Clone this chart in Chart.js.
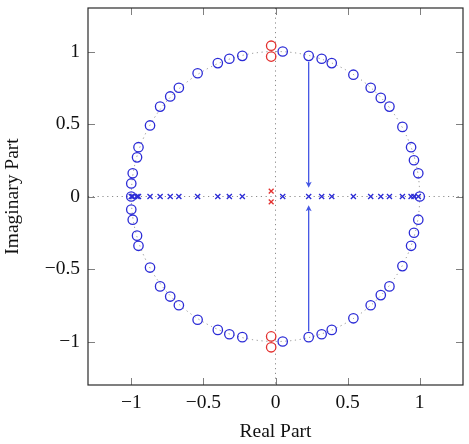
<!DOCTYPE html>
<html><head><meta charset="utf-8">
<script src="https://cdn.jsdelivr.net/npm/chart.js@4"></script>
<style>html,body{margin:0;padding:0;background:#fff}canvas{display:block}</style>
</head><body>
<canvas id="c" width="469" height="444"></canvas>
<script>
// Zeros on the unit circle (blue circles)
const zerosRe = [-1.00,-1.00,-0.99,-0.96,-0.95,-0.87,-0.80,-0.73,-0.67,-0.54,-0.40,-0.32,-0.23,0.05,0.23,0.32,0.39,0.54,0.66,0.73,0.79,0.88,0.94,0.96,0.99,1.00,
                 -1.00,-0.99,-0.96,-0.95,-0.87,-0.80,-0.73,-0.67,-0.54,-0.40,-0.32,-0.23,0.05,0.23,0.32,0.39,0.54,0.66,0.73,0.79,0.88,0.94,0.96,0.99];
const zerosIm = [0.00,0.09,0.16,0.27,0.34,0.49,0.62,0.69,0.75,0.85,0.92,0.95,0.97,1.00,0.97,0.95,0.92,0.84,0.75,0.68,0.62,0.48,0.34,0.25,0.16,0.00,
                 -0.09,-0.16,-0.27,-0.34,-0.49,-0.62,-0.69,-0.75,-0.85,-0.92,-0.95,-0.97,-1.00,-0.97,-0.95,-0.92,-0.84,-0.75,-0.68,-0.62,-0.48,-0.34,-0.25,-0.16];
// Poles on the real axis (blue crosses)
const polesRe = [-1.00,-0.99,-0.96,-0.95,-0.87,-0.80,-0.73,-0.67,-0.54,-0.40,-0.32,-0.23,0.05,0.23,0.32,0.39,0.54,0.66,0.73,0.79,0.88,0.94,0.96,0.99];
const polesIm = [0,0,0,0,0,0,0,0,0,0,0,0,0,0,0,0,0,0,0,0,0,0,0,0];
// Red zeros and poles
const redZerosRe = [-0.03,-0.03,-0.03,-0.03];
const redZerosIm = [1.04,0.965,-0.965,-1.04];
const redPolesRe = [-0.03,-0.03];
const redPolesIm = [0.037,-0.037];
// Arrows
const arrowRe = [0.23,0.23];
const arrowFromIm = [0.93,-0.93];
const arrowToIm = [0.06,-0.06];
// Ticks
const tickValues = [-1,-0.5,0,0.5,1];
const tickLabels = ['\u22121','\u22120.5','0','0.5','1'];

const BLUE = '#2b2bd6', RED = '#e3302f', ARROW = '#4456e4';
const pts = (xs, ys) => xs.map((v,i)=>({x:v,y:ys[i]}));
const FONT = {family:'"Liberation Serif", "Times New Roman", serif', size:19.5};

const deco = {
  id:'deco',
  beforeDatasetsDraw(chart){
    const {ctx, chartArea:a, scales:{x,y}} = chart;
    ctx.save();
    ctx.beginPath(); ctx.rect(a.left,a.top,a.right-a.left,a.bottom-a.top); ctx.clip();
    ctx.strokeStyle='#8c8c8c'; ctx.lineWidth=1; ctx.setLineDash([1.2,3.6]);
    const x0=x.getPixelForValue(0), y0=y.getPixelForValue(0);
    ctx.beginPath(); ctx.moveTo(a.left,y0); ctx.lineTo(a.right,y0); ctx.stroke();
    ctx.beginPath(); ctx.moveTo(x0,a.top); ctx.lineTo(x0,a.bottom); ctx.stroke();
    const rx = x.getPixelForValue(1)-x0, ry = y0-y.getPixelForValue(1);
    ctx.beginPath(); ctx.ellipse(x0,y0,rx,ry,0,0,Math.PI*2); ctx.stroke();
    ctx.restore();
  },
  afterDatasetsDraw(chart){
    const {ctx, chartArea:a, scales:{x,y}} = chart;
    ctx.save();
    // arrows
    ctx.strokeStyle=ARROW; ctx.fillStyle=ARROW; ctx.lineWidth=1.3;
    arrowRe.forEach((re,i)=>{
      const px=x.getPixelForValue(re), py1=y.getPixelForValue(arrowFromIm[i]), py2=y.getPixelForValue(arrowToIm[i]);
      const dir = Math.sign(py2-py1);
      ctx.beginPath(); ctx.moveTo(px,py1); ctx.lineTo(px,py2-dir*3); ctx.stroke();
      ctx.beginPath();
      ctx.moveTo(px,py2);
      ctx.lineTo(px-3,py2-dir*6);
      ctx.lineTo(px,py2-dir*4.5);
      ctx.lineTo(px+3,py2-dir*6);
      ctx.closePath(); ctx.fill();
    });
    // ticks on all sides, inward
    ctx.strokeStyle='#808080'; ctx.lineWidth=1;
    const L=7;
    tickValues.forEach(v=>{
      const px=Math.round(x.getPixelForValue(v))+0.5;
      ctx.beginPath(); ctx.moveTo(px,a.bottom); ctx.lineTo(px,a.bottom-L); ctx.moveTo(px,a.top); ctx.lineTo(px,a.top+L); ctx.stroke();
      const py=Math.round(y.getPixelForValue(v))+0.5;
      ctx.beginPath(); ctx.moveTo(a.left,py); ctx.lineTo(a.left+L,py); ctx.moveTo(a.right,py); ctx.lineTo(a.right-L,py); ctx.stroke();
    });
    // frame
    ctx.strokeStyle='#2a2a2a'; ctx.lineWidth=1.2;
    ctx.strokeRect(a.left,a.top,a.right-a.left,a.bottom-a.top);
    ctx.restore();
  }
};

new Chart(document.getElementById('c'), {
  type:'scatter',
  data:{datasets:[
    {data:pts(zerosRe,zerosIm), pointStyle:'circle', pointRadius:4.7, borderColor:BLUE, backgroundColor:'rgba(0,0,0,0)', borderWidth:1.3},
    {data:pts(polesRe,polesIm), pointStyle:'crossRot', pointRadius:3.6, borderColor:BLUE, backgroundColor:BLUE, borderWidth:1.3},
    {data:pts(redZerosRe,redZerosIm), pointStyle:'circle', pointRadius:4.7, borderColor:RED, backgroundColor:'rgba(0,0,0,0)', borderWidth:1.3},
    {data:pts(redPolesRe,redPolesIm), pointStyle:'crossRot', pointRadius:3.4, borderColor:RED, backgroundColor:RED, borderWidth:1.3}
  ]},
  options:{
    responsive:false, devicePixelRatio:1, animation:false,
    layout:{padding:{left:0,right:6,top:8,bottom:0}},
    plugins:{legend:{display:false}, tooltip:{enabled:false}},
    scales:{
      x:{type:'linear', min:-1.3, max:1.3,
        grid:{display:false, drawTicks:false}, border:{display:false},
        afterBuildTicks:s=>{s.ticks=tickValues.map(v=>({value:v}));},
        afterFit:s=>{s.height=59; s.paddingLeft=0; s.paddingRight=0;},
        ticks:{color:'#111', font:FONT, padding:6, maxRotation:0, callback:(v,i)=>tickLabels[i]},
        title:{display:true, text:'Real Part', color:'#111', font:FONT, padding:{top:0,bottom:0}}
      },
      y:{type:'linear', min:-1.3, max:1.3,
        grid:{display:false, drawTicks:false}, border:{display:false},
        afterBuildTicks:s=>{s.ticks=tickValues.map(v=>({value:v}));},
        afterFit:s=>{s.width=88; s.paddingTop=0; s.paddingBottom=0;},
        ticks:{color:'#111', font:FONT, padding:8, callback:(v,i)=>tickLabels[i]},
        title:{display:true, text:'Imaginary Part', color:'#111', font:FONT, padding:{top:1,bottom:0}}
      }
    }
  },
  plugins:[deco]
});
</script>
</body></html>
